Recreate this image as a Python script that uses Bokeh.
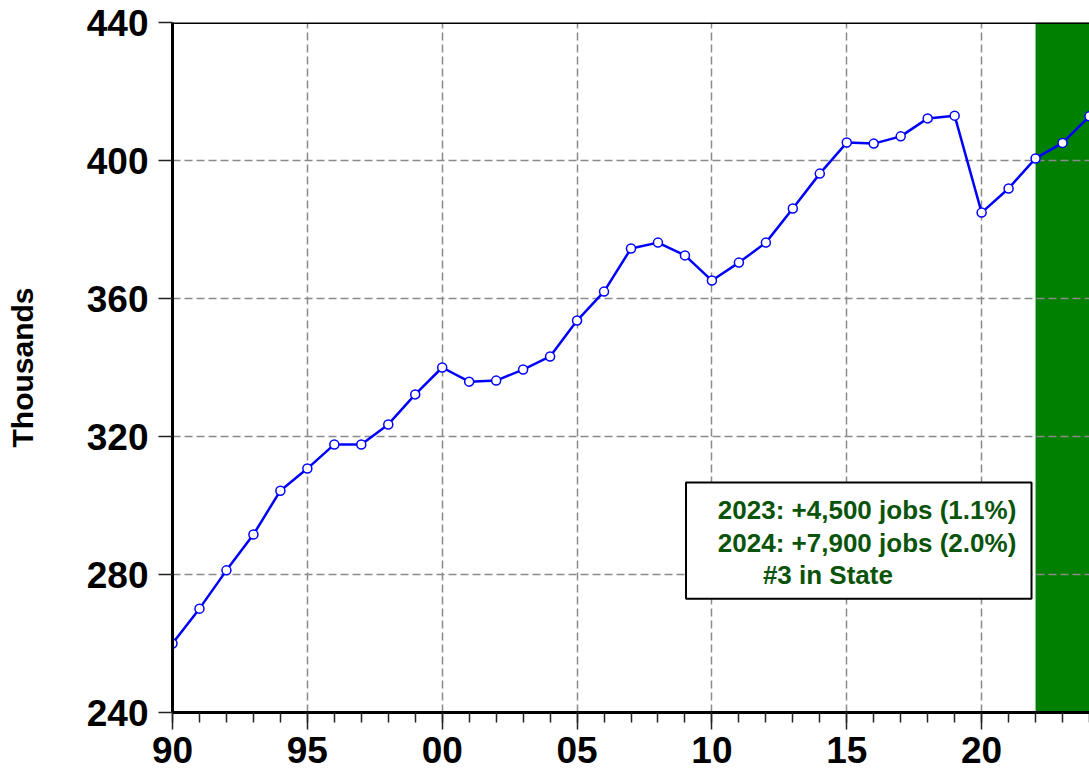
from bokeh.plotting import figure
from bokeh.models import FixedTicker, Span, Label, BoxAnnotation
from bokeh.embed import file_html
from bokeh.resources import INLINE

# ---- data ----
years = list(range(1990, 2025))
jobs = [260.0, 270.1, 281.2, 291.6, 304.3, 310.7, 317.7, 317.7, 323.5, 332.2,
        340.0, 335.9, 336.2, 339.4, 343.2, 353.6, 362.0, 374.5, 376.2, 372.5,
        365.2, 370.4, 376.2, 386.1, 396.2, 405.2, 404.9, 407.0, 412.2, 413.0,
        384.9, 391.9, 400.6, 405.1, 412.8]
x_ticks = [1990, 1995, 2000, 2005, 2010, 2015, 2020]
x_tick_labels = ["90", "95", "00", "05", "10", "15", "20"]
y_ticks = [240, 280, 320, 360, 400, 440]
shade_start, shade_end = 2022, 2024
note_lines = ["2023: +4,500 jobs (1.1%)", "2024: +7,900 jobs (2.0%)", "#3 in State"]

FONT = "Liberation Sans"

p = figure(width=1089, height=774, x_range=(1990, 2024), y_range=(240, 440),
           output_backend="svg", toolbar_location=None,
           min_border_left=172, min_border_right=0, min_border_top=22,
           min_border_bottom=62)
p.outline_line_color = None
p.background_fill_color = "white"
p.border_fill_color = "white"

# shaded forecast region
p.quad(left=[shade_start], right=[shade_end], bottom=[y_ticks[0]], top=[y_ticks[-1]],
       fill_color="#008000", line_color=None, level="image")

# series
p.line(years, jobs, line_color="#0000ff", line_width=2.5)
p.scatter(years, jobs, size=9, fill_color="white", line_color="#0000ff", line_width=1.5)

# axes
p.xaxis.ticker = FixedTicker(ticks=x_ticks, minor_ticks=years)
p.xaxis.major_label_overrides = {t: l for t, l in zip(x_ticks, x_tick_labels)}
p.yaxis.ticker = FixedTicker(ticks=y_ticks, minor_ticks=[])

for ax in (p.xaxis[0], p.yaxis[0]):
    ax.axis_line_width = 3
    ax.axis_line_color = "black"
    ax.major_label_text_font = FONT
    ax.major_label_text_font_style = "bold"
    ax.major_label_text_font_size = "37px"
    ax.major_label_text_color = "black"
    ax.major_tick_in = 0
    ax.major_tick_line_color = "#222222"
    ax.major_tick_line_width = 1.5
    ax.minor_tick_in = 0

p.xaxis.major_tick_out = 17
p.xaxis.minor_tick_out = 10
p.xaxis.minor_tick_line_color = "#222222"
p.xaxis.minor_tick_line_width = 1.5
p.xaxis.major_label_standoff = 7

p.yaxis.major_tick_out = 14
p.yaxis.minor_tick_line_color = None
p.yaxis.major_label_standoff = 10
p.yaxis.axis_label = "Thousands"
p.yaxis.axis_label_text_font = FONT
p.yaxis.axis_label_text_font_style = "bold"
p.yaxis.axis_label_text_font_size = "30px"
p.yaxis.axis_label_text_color = "black"
p.yaxis.axis_label_standoff = 45

# grid
for g in (p.xgrid[0], p.ygrid[0]):
    g.grid_line_color = "#8a8a8a"
    g.grid_line_width = 1.5
    g.grid_line_dash = "8 4"

# top border
p.add_layout(Span(location=440, dimension="width", line_color="black", line_width=3))

# annotation box
p.add_layout(BoxAnnotation(left=2009.04, right=2021.85, bottom=273.0, top=306.7,
                           fill_color="white", fill_alpha=1.0,
                           line_color="black", line_width=2, line_alpha=1.0))
pos = [(2010.22, 298.8), (2010.22, 289.0), (2011.89, 280.0)]
for (lx, ly), txt in zip(pos, note_lines):
    p.add_layout(Label(x=lx, y=ly, text=txt, text_font=FONT, text_font_style="bold",
                       text_font_size="26px", text_color="#0a530a",
                       text_baseline="middle", text_align="left"))

open("out.html", "w").write(file_html(p, INLINE))
